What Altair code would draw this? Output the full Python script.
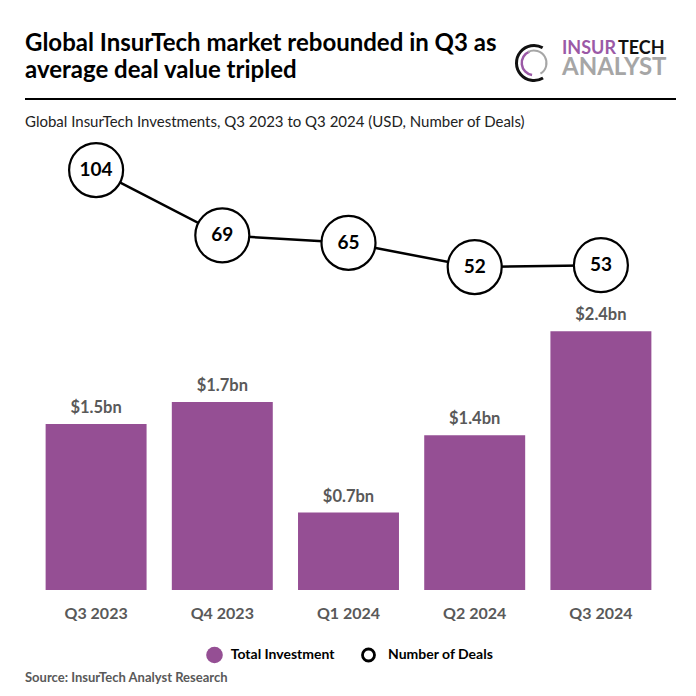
import altair as alt
import pandas as pd

# ---- data ----
quarters = ["Q3 2023", "Q4 2023", "Q1 2024", "Q2 2024", "Q3 2024"]
investment_bn = [1.5, 1.7, 0.7, 1.4, 2.34]
investment_labels = ["$1.5bn", "$1.7bn", "$0.7bn", "$1.4bn", "$2.4bn"]
deals = [104, 69, 65, 52, 53]

title_lines = ["Global InsurTech market rebounded in Q3 as", "average deal value tripled"]
subtitle = "Global InsurTech Investments, Q3 2023 to Q3 2024 (USD, Number of Deals)"
source = "Source: InsurTech Analyst Research"
legend_items = ["Total Investment", "Number of Deals"]

FONT = "Lato"
PURPLE = "#954F94"
GREY = "#595959"

df = pd.DataFrame({
    "quarter": quarters,
    "inv": investment_bn,
    "inv_label": investment_labels,
    "deals": deals,
})

x = alt.X("quarter:N", sort=quarters,
          scale=alt.Scale(paddingInner=0.2, paddingOuter=0.1), axis=None)
y_bar = alt.Y("inv:Q", scale=alt.Scale(domain=[0, 4.069], nice=False, zero=True), axis=None)
y_line = alt.Y("deals:Q", scale=alt.Scale(domain=[-121.1, 120.1], nice=False, zero=False), axis=None)

base = alt.Chart(df)

bars = base.mark_bar(color=PURPLE).encode(x=x, y=y_bar)
bar_text = base.mark_text(font=FONT, fontSize=16.5, fontWeight="bold", color=GREY,
                          baseline="alphabetic", dy=-11).encode(x=x, y=y_bar, text="inv_label:N")
x_labels = base.mark_text(font=FONT, fontSize=16, fontWeight="bold", color=GREY,
                          baseline="alphabetic").encode(x=x, y=alt.value(479), text="quarter:N")

line = base.mark_line(color="black", strokeWidth=2.5).encode(x=x, y=y_line)
dots = base.mark_point(shape="circle", filled=True, fill="white", stroke="black",
                       strokeWidth=2.2, size=2916, opacity=1).encode(x=x, y=y_line)
dot_text = base.mark_text(font=FONT, fontSize=19, fontWeight="bold", color="black",
                          baseline="middle").encode(x=x, y=y_line, text="deals:Q")

one = pd.DataFrame({"k": [0]})

title = alt.Chart(one).mark_text(font=FONT, fontSize=24, fontWeight="bold", color="black",
                                 align="left", baseline="alphabetic", lineHeight=27).encode(
    x=alt.value(-8), y=alt.value(-89), text=alt.value(title_lines))
rule = alt.Chart(one).mark_rule(color="black", strokeWidth=2).encode(
    x=alt.value(-8), x2=alt.value(643), y=alt.value(-41))
sub = alt.Chart(one).mark_text(font=FONT, fontSize=15, color="#222222",
                               align="left", baseline="alphabetic").encode(
    x=alt.value(-8), y=alt.value(-13), text=alt.value(subtitle))

# logo
logo_arcs = pd.DataFrame({
    "t0": [2.6, 3.3, -0.5],
    "t1": [6.8, 5.9, 2.6],
    "r": [19, 13.5, 13.5],
    "r2": [16, 11, 11.5],
    "c": ["#111111", "#9B59A6", "#A6A6A6"],
})
logo = alt.Chart(logo_arcs).mark_arc().encode(
    x=alt.value(501), y=alt.value(-77),
    theta=alt.Theta("t0:Q", scale=None), theta2="t1",
    radius=alt.Radius("r:Q", scale=None), radius2="r2",
    color=alt.Color("c:N", scale=None))
insur = alt.Chart(one).mark_text(font=FONT, fontSize=18, fontWeight="bold", color="#9B59A6",
                                 align="left", baseline="alphabetic").encode(
    x=alt.value(529), y=alt.value(-86), text=alt.value("INSUR"))
tech = alt.Chart(one).mark_text(font=FONT, fontSize=18, fontWeight="bold", color="#111111",
                                align="left", baseline="alphabetic").encode(
    x=alt.value(585), y=alt.value(-86), text=alt.value("TECH"))
analyst = alt.Chart(one).mark_text(font=FONT, fontSize=24, fontWeight="bold", color="#A6A6A6",
                                   align="left", baseline="alphabetic").encode(
    x=alt.value(529), y=alt.value(-65), text=alt.value("ANALYST"))

# legend
leg_dot = alt.Chart(one).mark_point(shape="circle", filled=True, color=PURPLE, size=276, opacity=1).encode(
    x=alt.value(181.5), y=alt.value(515))
leg_ring = alt.Chart(one).mark_point(shape="circle", filled=False, color="black", strokeWidth=2.8,
                                     size=144, opacity=1).encode(x=alt.value(335.5), y=alt.value(515))
leg_t1 = alt.Chart(one).mark_text(font=FONT, fontSize=14, fontWeight="bold", color="black",
                                  align="left", baseline="middle").encode(
    x=alt.value(197.7), y=alt.value(515), text=alt.value(legend_items[0]))
leg_t2 = alt.Chart(one).mark_text(font=FONT, fontSize=14, fontWeight="bold", color="black",
                                  align="left", baseline="middle").encode(
    x=alt.value(355), y=alt.value(515), text=alt.value(legend_items[1]))
src = alt.Chart(one).mark_text(font=FONT, fontSize=13, fontWeight="bold", color=GREY,
                               align="left", baseline="alphabetic").encode(
    x=alt.value(-8), y=alt.value(542), text=alt.value(source))

chart = alt.layer(
    bars, bar_text, x_labels, line, dots, dot_text,
    title, rule, sub, logo, insur, tech, analyst,
    leg_dot, leg_ring, leg_t1, leg_t2, src,
).resolve_scale(y="independent").properties(
    width=631, height=450,
    padding={"left": 25, "top": 132, "right": 24, "bottom": 98},
    autosize=alt.AutoSizeParams(type="none"),
    background="white",
).configure_view(stroke=None)

chart.save("out.html", embed_options={"renderer": "svg", "actions": False})
